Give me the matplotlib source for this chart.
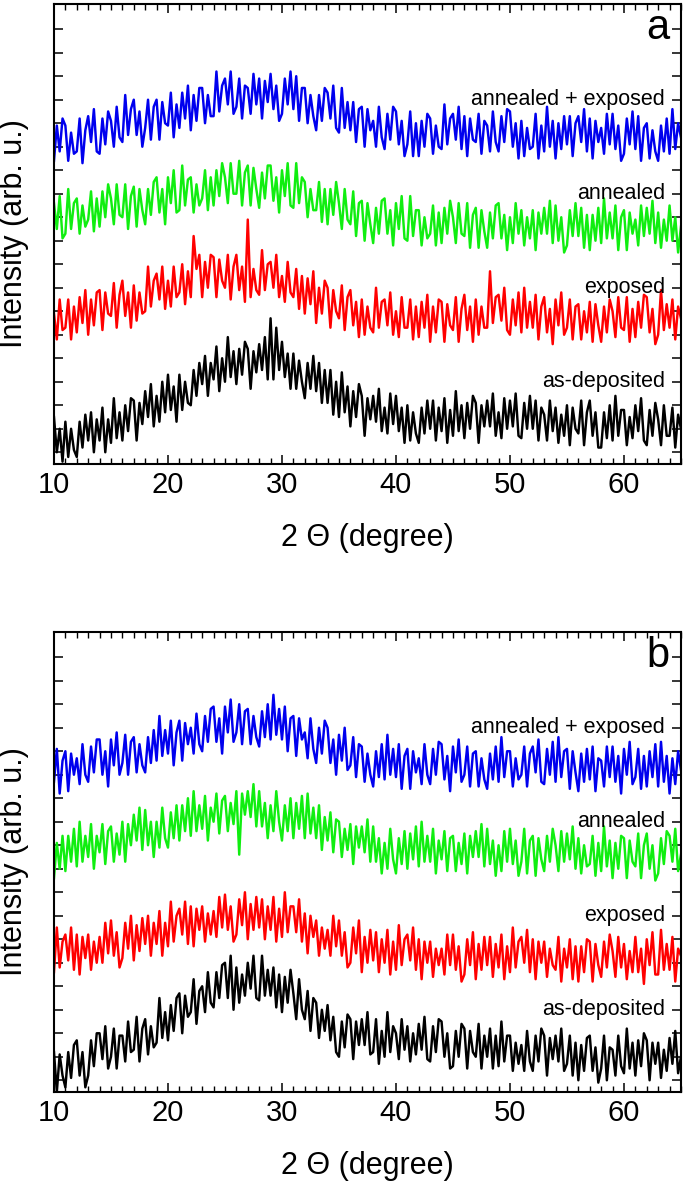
import matplotlib
matplotlib.use("Agg")
import matplotlib.pyplot as plt
import numpy as np
from matplotlib.ticker import MultipleLocator

plt.rcParams['font.family'] = ['Liberation Sans', 'DejaVu Sans']

# 2-theta range, values are sampled every 0.25 degree from 10 to 65
thetaStart = 10
thetaEnd = 65

curveLabels = ["annealed + exposed", "annealed", "exposed", "as-deposited"]
curveColors = ["#0000ee", "#10ee10", "#ff0000", "#000000"]
labelLevels = [155, 115, 75, 35]

# panel a (stacked intensities, arb. u.), two degrees per line
aAnnealedExposed = [
    129, 144, 133, 147, 144, 129, 141, 132,
    133, 147, 128, 142, 148, 137, 151, 133,
    132, 147, 136, 150, 146, 135, 152, 139,
    137, 157, 140, 151, 155, 140, 150, 135,
    143, 155, 138, 152, 155, 138, 154, 145,
    144, 158, 139, 153, 143, 158, 147, 161,
    142, 157, 146, 160, 160, 145, 157, 148,
    148, 167, 150, 161, 164, 153, 167, 149,
    152, 164, 147, 161, 160, 149, 166, 153,
    164, 147, 163, 154, 166, 151, 161, 146,
    149, 164, 153, 167, 151, 165, 146, 160,
    160, 145, 157, 148, 142, 157, 146, 160,
    158, 147, 161, 143, 141, 160, 143, 154,
    142, 154, 137, 151, 152, 135, 151, 142,
    146, 135, 152, 139, 134, 149, 138, 152,
    150, 136, 146, 131, 136, 150, 131, 145,
    131, 146, 135, 149, 147, 132, 144, 135,
    134, 153, 136, 147, 149, 138, 152, 134,
    148, 131, 147, 138, 137, 149, 132, 146,
    144, 133, 150, 137, 133, 148, 137, 151,
    150, 135, 145, 130, 146, 131, 143, 134,
    135, 149, 130, 144, 133, 152, 135, 146,
    130, 145, 134, 148, 136, 148, 131, 145,
    148, 137, 151, 133, 147, 130, 146, 137,
    143, 132, 149, 136, 149, 134, 144, 129,
    132, 147, 136, 150, 134, 148, 129, 143,
    145, 130, 142, 133, 129, 144, 133, 147,
    132, 151, 134, 145, 139,
]
aAnnealed = [
    111, 100, 114, 96, 98, 117, 100, 111,
    113, 98, 110, 101, 104, 116, 99, 113,
    101, 116, 105, 119, 113, 102, 119, 106,
    105, 119, 100, 114, 118, 101, 117, 108,
    102, 117, 106, 120, 122, 107, 117, 102,
    122, 111, 125, 107, 108, 127, 110, 121,
    122, 107, 119, 110, 113, 125, 108, 122,
    110, 125, 114, 128, 122, 111, 128, 115,
    115, 129, 110, 124, 127, 110, 126, 117,
    109, 124, 113, 127, 127, 112, 122, 107,
    125, 114, 128, 110, 109, 128, 111, 122,
    120, 105, 117, 108, 108, 120, 103, 117,
    102, 117, 106, 120, 111, 100, 117, 104,
    102, 116, 97, 111, 112, 95, 111, 102,
    94, 109, 98, 112, 113, 98, 108, 93,
    111, 100, 114, 96, 95, 114, 97, 108,
    108, 93, 105, 96, 98, 110, 93, 107,
    94, 109, 98, 112, 105, 94, 111, 98,
    97, 111, 92, 106, 109, 92, 108, 99,
    92, 107, 96, 110, 111, 96, 106, 91,
    105, 94, 111, 98, 108, 93, 105, 96,
    108, 91, 107, 98, 109, 98, 112, 94,
    110, 95, 105, 90, 93, 108, 97, 111,
    97, 109, 92, 106, 91, 106, 95, 109,
    94, 113, 96, 107, 96, 110, 91, 105,
    108, 91, 107, 98, 104, 93, 110, 97,
    109, 98, 112, 94, 107, 92, 104, 95,
    110, 95, 105, 90, 101,
]
aExposed = [
    64, 53, 70, 57, 58, 70, 53, 67,
    56, 71, 60, 74, 55, 70, 59, 73,
    74, 57, 73, 64, 63, 77, 58, 72,
    78, 63, 73, 58, 76, 61, 73, 64,
    65, 84, 67, 78, 81, 70, 84, 66,
    78, 67, 84, 71, 73, 85, 68, 82,
    71, 97, 83, 89, 71, 86, 75, 89,
    88, 71, 87, 78, 75, 89, 70, 84,
    89, 74, 84, 69, 104, 71, 83, 74,
    72, 91, 74, 85, 86, 75, 89, 71,
    80, 69, 86, 73, 71, 83, 66, 80,
    64, 79, 68, 82, 60, 75, 64, 78,
    75, 58, 74, 65, 62, 76, 57, 71,
    74, 59, 69, 54, 70, 55, 67, 58,
    56, 75, 58, 69, 70, 59, 73, 55,
    65, 54, 71, 58, 58, 70, 53, 67,
    54, 69, 58, 72, 52, 67, 56, 70,
    69, 52, 68, 59, 57, 71, 52, 66,
    72, 57, 67, 52, 70, 55, 67, 58,
    58, 82, 60, 71, 72, 61, 75, 57,
    55, 70, 59, 73, 56, 75, 58, 69,
    58, 72, 53, 67, 71, 56, 66, 51,
    70, 59, 73, 55, 58, 70, 53, 67,
    68, 53, 65, 56, 69, 52, 68, 59,
    52, 67, 56, 70, 65, 54, 71, 58,
    57, 71, 52, 66, 54, 69, 58, 72,
    71, 56, 66, 51, 55, 74, 57, 68,
    58, 70, 53, 67, 62,
]
aAsDeposited = [
    20, 5, 15, 1, 18, 3, 15, 6,
    3, 18, 7, 21, 10, 22, 5, 19,
    10, 24, 5, 19, 9, 28, 11, 22,
    10, 25, 14, 28, 27, 10, 26, 17,
    31, 20, 34, 16, 29, 18, 35, 22,
    38, 23, 33, 18, 38, 23, 35, 26,
    25, 40, 29, 43, 34, 46, 29, 43,
    36, 50, 31, 45, 35, 54, 37, 48,
    34, 49, 38, 52, 49, 32, 48, 39,
    51, 40, 54, 36, 62, 36, 58, 40,
    52, 37, 47, 32, 47, 32, 44, 35,
    28, 43, 32, 46, 31, 43, 26, 40,
    26, 40, 21, 35, 20, 39, 22, 33,
    16, 31, 20, 34, 29, 12, 28, 19,
    29, 18, 32, 14, 24, 13, 30, 17,
    29, 14, 24, 9, 25, 10, 22, 13,
    9, 24, 13, 27, 15, 27, 10, 24,
    14, 28, 9, 23, 12, 31, 14, 25,
    11, 26, 15, 29, 26, 9, 25, 16,
    27, 16, 30, 12, 22, 11, 28, 15,
    27, 16, 30, 12, 11, 26, 15, 29,
    15, 27, 10, 24, 21, 10, 27, 14,
    24, 9, 21, 12, 25, 8, 24, 15,
    13, 27, 8, 22, 27, 12, 22, 7,
    7, 22, 11, 25, 10, 29, 12, 23,
    23, 8, 20, 11, 25, 14, 28, 10,
    8, 23, 12, 26, 19, 8, 25, 12,
    12, 24, 7, 21, 15,
]

# panel b
bAnnealedExposed = [
    132, 146, 127, 141, 145, 128, 144, 135,
    142, 131, 148, 135, 132, 147, 136, 150,
    150, 135, 145, 130, 150, 139, 153, 135,
    140, 152, 135, 149, 151, 136, 148, 139,
    136, 151, 140, 154, 141, 160, 143, 154,
    144, 158, 139, 153, 158, 141, 157, 148,
    155, 144, 161, 148, 145, 160, 149, 163,
    164, 149, 159, 144, 164, 153, 167, 149,
    153, 165, 148, 162, 163, 148, 160, 151,
    147, 162, 151, 165, 150, 169, 152, 163,
    150, 164, 145, 159, 160, 143, 159, 150,
    153, 142, 159, 146, 140, 155, 144, 158,
    155, 140, 150, 135, 152, 141, 155, 137,
    139, 151, 134, 148, 147, 132, 144, 135,
    130, 145, 134, 148, 133, 152, 135, 146,
    134, 148, 129, 143, 146, 129, 145, 136,
    142, 131, 148, 135, 131, 146, 135, 149,
    148, 133, 143, 128, 147, 136, 150, 132,
    135, 147, 130, 144, 145, 130, 142, 133,
    129, 144, 133, 147, 132, 151, 134, 145,
    145, 130, 142, 133, 135, 147, 130, 144,
    147, 136, 150, 132, 131, 146, 135, 149,
    132, 151, 134, 145, 146, 129, 145, 136,
    128, 144, 132, 146, 133, 147, 128, 142,
    141, 130, 147, 134, 147, 132, 143, 127,
    146, 135, 149, 131, 134, 146, 129, 143,
    130, 145, 134, 148, 130, 149, 132, 143,
    127, 142, 131, 145, 137,
]
bAnnealed = [
    91, 106, 95, 109, 94, 109, 98, 112,
    96, 115, 98, 109, 100, 114, 95, 109,
    102, 114, 97, 111, 113, 98, 110, 101,
    115, 98, 114, 105, 118, 107, 121, 103,
    120, 105, 115, 100, 115, 104, 121, 108,
    104, 119, 108, 122, 107, 122, 111, 125,
    109, 128, 111, 122, 112, 126, 107, 121,
    115, 127, 110, 124, 126, 111, 123, 114,
    128, 101, 127, 118, 128, 117, 131, 113,
    128, 113, 123, 108, 122, 111, 128, 115,
    107, 122, 111, 125, 108, 123, 112, 126,
    108, 127, 110, 121, 108, 122, 103, 117,
    107, 119, 102, 116, 115, 100, 112, 103,
    114, 97, 113, 104, 113, 102, 116, 98,
    113, 98, 108, 93, 106, 95, 112, 99,
    93, 108, 97, 111, 95, 110, 99, 113,
    96, 115, 98, 109, 98, 112, 93, 107,
    99, 111, 94, 108, 109, 94, 106, 97,
    110, 93, 109, 100, 111, 100, 114, 96,
    112, 97, 107, 92, 105, 94, 111, 98,
    112, 97, 107, 92, 98, 112, 93, 107,
    109, 92, 108, 99, 94, 109, 98, 112,
    105, 94, 111, 98, 110, 99, 113, 95,
    108, 93, 105, 96, 97, 109, 92, 106,
    94, 113, 96, 107, 91, 106, 95, 109,
    108, 91, 107, 98, 96, 110, 91, 105,
    110, 95, 105, 90, 93, 108, 97, 111,
    109, 98, 112, 94, 101,
]
bExposed = [
    51, 70, 53, 64, 67, 56, 70, 52,
    67, 50, 66, 57, 67, 52, 64, 55,
    66, 55, 72, 59, 73, 58, 68, 53,
    57, 72, 61, 75, 56, 71, 60, 74,
    63, 75, 58, 72, 63, 77, 58, 72,
    62, 81, 64, 75, 78, 67, 81, 63,
    79, 62, 78, 69, 79, 64, 76, 67,
    77, 66, 83, 70, 84, 69, 79, 64,
    67, 82, 71, 85, 65, 80, 69, 83,
    70, 82, 65, 79, 69, 83, 64, 78,
    66, 85, 68, 79, 79, 68, 82, 64,
    76, 59, 75, 66, 73, 58, 70, 61,
    69, 58, 75, 62, 73, 58, 68, 53,
    55, 70, 59, 73, 51, 66, 55, 69,
    56, 68, 51, 65, 55, 69, 50, 64,
    52, 71, 54, 65, 67, 56, 70, 52,
    65, 48, 64, 55, 64, 49, 61, 54,
    61, 50, 67, 54, 67, 52, 62, 47,
    50, 65, 54, 68, 48, 63, 52, 66,
    54, 66, 49, 63, 53, 67, 48, 62,
    51, 70, 53, 64, 66, 55, 69, 51,
    65, 48, 64, 55, 64, 49, 61, 54,
    52, 66, 47, 61, 53, 65, 48, 62,
    47, 62, 51, 65, 64, 47, 63, 54,
    49, 64, 53, 67, 60, 49, 66, 53,
    63, 48, 60, 51, 66, 51, 61, 46,
    65, 54, 68, 50, 50, 69, 52, 63,
    52, 66, 47, 61, 58,
]
bAsDeposited = [
    17, 0, 16, 7, 2, 17, 6, 20,
    22, 7, 17, 2, 7, 22, 11, 25,
    25, 14, 28, 10, 15, 27, 10, 24,
    24, 13, 30, 17, 18, 32, 13, 27,
    31, 16, 28, 19, 21, 40, 23, 34,
    22, 37, 26, 40, 42, 25, 41, 32,
    34, 48, 29, 43, 45, 34, 51, 38,
    36, 51, 40, 54, 55, 40, 58, 35,
    53, 38, 50, 41, 55, 44, 58, 40,
    39, 58, 41, 52, 41, 53, 36, 50,
    34, 49, 38, 52, 42, 31, 48, 35,
    31, 43, 26, 40, 38, 23, 35, 26,
    37, 22, 32, 17, 15, 30, 19, 33,
    31, 14, 30, 20, 31, 20, 34, 16,
    17, 31, 12, 26, 15, 34, 17, 28,
    25, 14, 31, 18, 28, 13, 25, 16,
    29, 18, 32, 14, 13, 28, 17, 31,
    30, 15, 25, 10, 11, 26, 15, 29,
    27, 10, 26, 17, 15, 29, 10, 24,
    15, 27, 10, 24, 11, 30, 13, 24,
    24, 9, 21, 12, 20, 9, 26, 13,
    9, 24, 13, 27, 24, 7, 23, 14,
    24, 13, 27, 9, 12, 24, 7, 21,
    5, 20, 9, 23, 24, 9, 19, 4,
    10, 24, 5, 19, 18, 7, 24, 11,
    8, 27, 10, 21, 7, 22, 11, 25,
    22, 5, 21, 12, 21, 6, 18, 9,
    23, 12, 26, 8, 15,
]


def drawPanel(ax, curves, letter):
    for ys, color in zip(curves, curveColors):
        xs = np.linspace(thetaStart, thetaEnd, len(ys))
        ax.plot(xs, ys, color=color, lw=1.75)
    for label, level in zip(curveLabels, labelLevels):
        ax.text(63.6, level, label, ha="right", va="center", fontsize=15.5)
    ax.text(64.0, 181, letter, ha="right", va="baseline", fontsize=30)

    ax.set_xlim(thetaStart, thetaEnd)
    ax.set_ylim(0, 195.7)
    ax.xaxis.set_major_locator(MultipleLocator(10))
    ax.xaxis.set_minor_locator(MultipleLocator(1))
    ax.set_yticks(np.arange(5, 190, 10))
    ax.tick_params(axis="both", which="major", direction="in", length=6.5, width=1.1,
                   top=True, right=True, labelsize=21, pad=5)
    ax.tick_params(axis="x", which="minor", direction="in", length=4.2, width=1.0,
                   top=True, bottom=True)
    ax.tick_params(axis="y", labelleft=False)
    for spine in ax.spines.values():
        spine.set_linewidth(1.5)

    ax.set_xlabel("2 \u0398 (degree)", fontsize=22)
    ax.set_ylabel("Intensity (arb. u.)", fontsize=22)
    ax.xaxis.set_label_coords(0.5, -0.128)
    ax.yaxis.set_label_coords(-0.04, 0.5)


fig = plt.figure(figsize=(6.85, 11.91), dpi=100)
axA = fig.add_axes([0.0788, 0.6104, 0.9153, 0.3862])
axB = fig.add_axes([0.0788, 0.0831, 0.9153, 0.3862])

drawPanel(axA, [aAnnealedExposed, aAnnealed, aExposed, aAsDeposited], "a")
drawPanel(axB, [bAnnealedExposed, bAnnealed, bExposed, bAsDeposited], "b")

fig.savefig("out.png", dpi=100)
